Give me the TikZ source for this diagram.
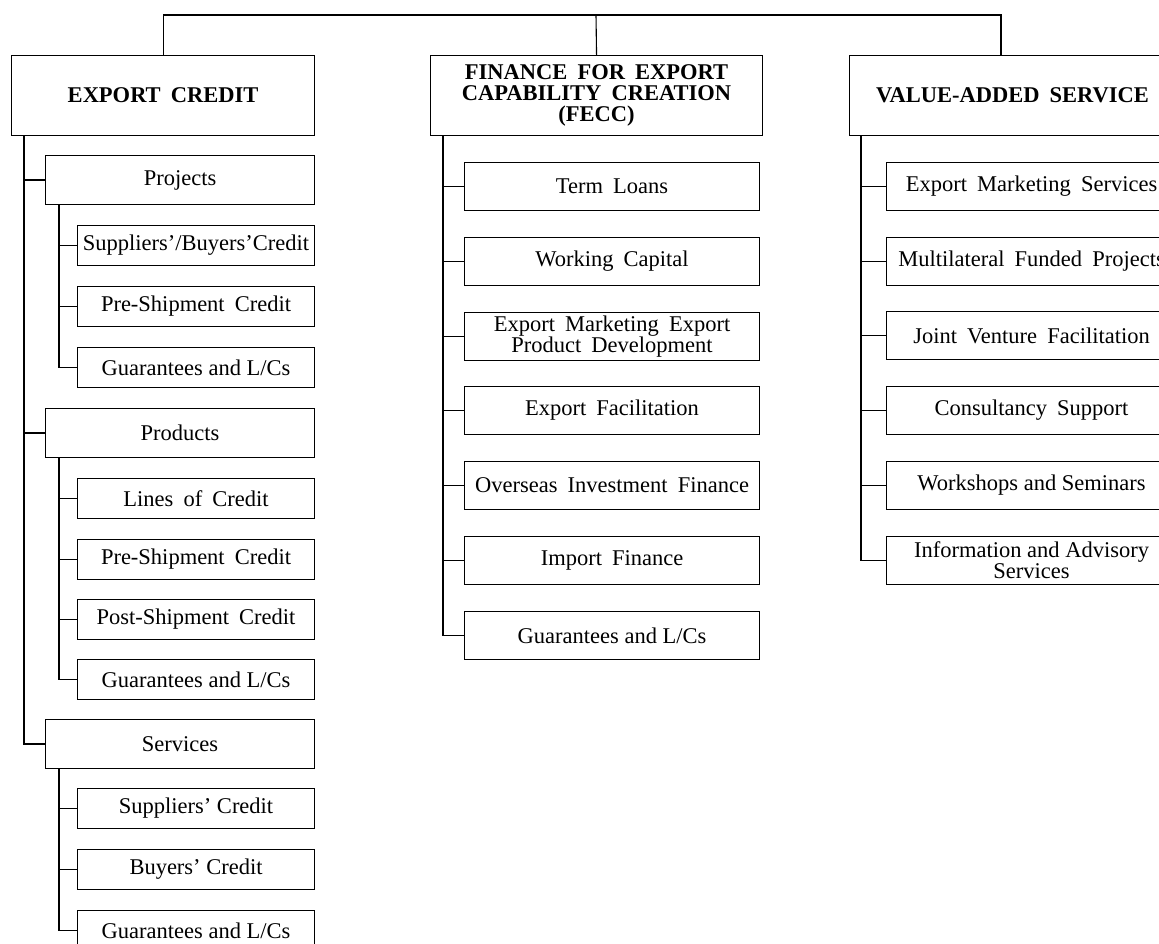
\documentclass[tikz,border=0pt]{standalone}
\usepackage{fontspec}
\setmainfont{Liberation Serif}
\newcommand{\widesp}{\spaceskip 0.45em plus 0.1em\relax}

\begin{document}
\begin{tikzpicture}[x=1pt,y=-1pt,
  head node/.style={draw,line width=1.1pt,anchor=north west,inner sep=0pt,align=center,
    minimum height=80pt,font=\fontsize{22.5}{21}\selectfont\bfseries\widesp},
  item node/.style={draw,line width=1.1pt,anchor=north west,inner sep=0pt,align=center,
    font=\fontsize{22.5}{21}\selectfont},
  wide/.style={font=\fontsize{22.5}{21}\selectfont\widesp},
  group node/.style={item node,minimum width=269pt,minimum height=49pt},
  left node/.style={item node,minimum width=237pt,minimum height=40pt},
  mid node/.style={item node,minimum width=295pt,minimum height=48pt},
  right node/.style={item node,minimum width=290pt,minimum height=48pt},
  link/.style={line width=1.5pt}]
  \clip (0,0) rectangle (1159,943);

  % heads
  \node[head node,minimum width=303pt] (ec) at (11,55) {EXPORT CREDIT};
  \node[head node,minimum width=332pt] (fecc) at (430,55) {FINANCE FOR EXPORT\\CAPABILITY CREATION\\(FECC)};
  \node[head node,minimum width=326pt] (vas) at (849,55) {VALUE-ADDED SERVICE};

  % export credit
  \node[group node,wide] (projects) at (45,155) {Projects};
  \node[left node] (p1) at (77,225) {Suppliers'/Buyers'Credit};
  \node[left node,wide] (p2) at (77,286) {Pre-Shipment Credit};
  \node[left node] (p3) at (77,347) {Guarantees and L/Cs};
  \node[group node] (products) at (45,408) {Products};
  \node[left node,wide] (q1) at (77,478) {Lines of Credit};
  \node[left node,wide] (q2) at (77,539) {Pre-Shipment Credit};
  \node[left node,wide] (q3) at (77,599) {Post-Shipment Credit};
  \node[left node] (q4) at (77,659) {Guarantees and L/Cs};
  \node[group node] (services) at (45,719) {Services};
  \node[left node] (r1) at (77,788) {Suppliers' Credit};
  \node[left node] (r2) at (77,849) {Buyers' Credit};
  \node[left node] (r3) at (77,910) {Guarantees and L/Cs};

  % fecc
  \node[mid node,wide] (m1) at (464,162) {Term Loans};
  \node[mid node,wide] (m2) at (464,237) {Working Capital};
  \node[mid node,wide] (m3) at (464,312) {Export Marketing Export\\Product Development};
  \node[mid node,wide] (m4) at (464,386) {Export Facilitation};
  \node[mid node,wide] (m5) at (464,461) {Overseas Investment Finance};
  \node[mid node,wide] (m6) at (464,536) {Import Finance};
  \node[mid node] (m7) at (464,611) {Guarantees and L/Cs};

  % value-added
  \node[right node,wide] (v1) at (886,162) {Export Marketing Services};
  \node[right node,wide] (v2) at (886,237) {Multilateral Funded Projects};
  \node[right node,wide] (v3) at (886,311) {Joint Venture Facilitation};
  \node[right node,wide] (v4) at (886,386) {Consultancy Support};
  \node[right node] (v5) at (886,461) {Workshops and Seminars};
  \node[right node] (v6) at (886,536) {Information and Advisory\\Services};

  % top bar
  \coordinate (bar) at (596,15);
  \coordinate (vastop) at (1001,55);
  \draw[line width=1.1pt] (ec.north) |- (vastop |- bar) -- (vastop);
  \draw[line width=1.1pt] (bar) -- (fecc.north);

  % spines
  \coordinate (s0) at ([xshift=13pt]ec.south west);
  \coordinate (s1) at ([xshift=14pt]projects.south west);
  \coordinate (s2) at ([xshift=14pt]products.south west);
  \coordinate (s3) at ([xshift=14pt]services.south west);
  \coordinate (s4) at ([xshift=13pt]fecc.south west);
  \coordinate (s5) at ([xshift=12pt]vas.south west);

  \draw[link] (s0) |- (services.west);
  \draw[link] (s1) |- (p3.west);
  \draw[link] (s2) |- (q4.west);
  \draw[link] (s3) |- (r3.west);
  \draw[link] (s4) |- (m7.west);
  \draw[link] (s5) |- (v6.west);
  \foreach \n in {projects,products}
    \draw[link] (\n.west) -- (\n.west -| s0);
  \foreach \n in {p1,p2}
    \draw[link] (\n.west) -- (\n.west -| s1);
  \foreach \n in {q1,q2,q3}
    \draw[link] (\n.west) -- (\n.west -| s2);
  \foreach \n in {r1,r2}
    \draw[link] (\n.west) -- (\n.west -| s3);
  \foreach \n in {m1,m2,m3,m4,m5,m6}
    \draw[link] (\n.west) -- (\n.west -| s4);
  \foreach \n in {v1,v2,v3,v4,v5}
    \draw[link] (\n.west) -- (\n.west -| s5);
\end{tikzpicture}
\end{document}
